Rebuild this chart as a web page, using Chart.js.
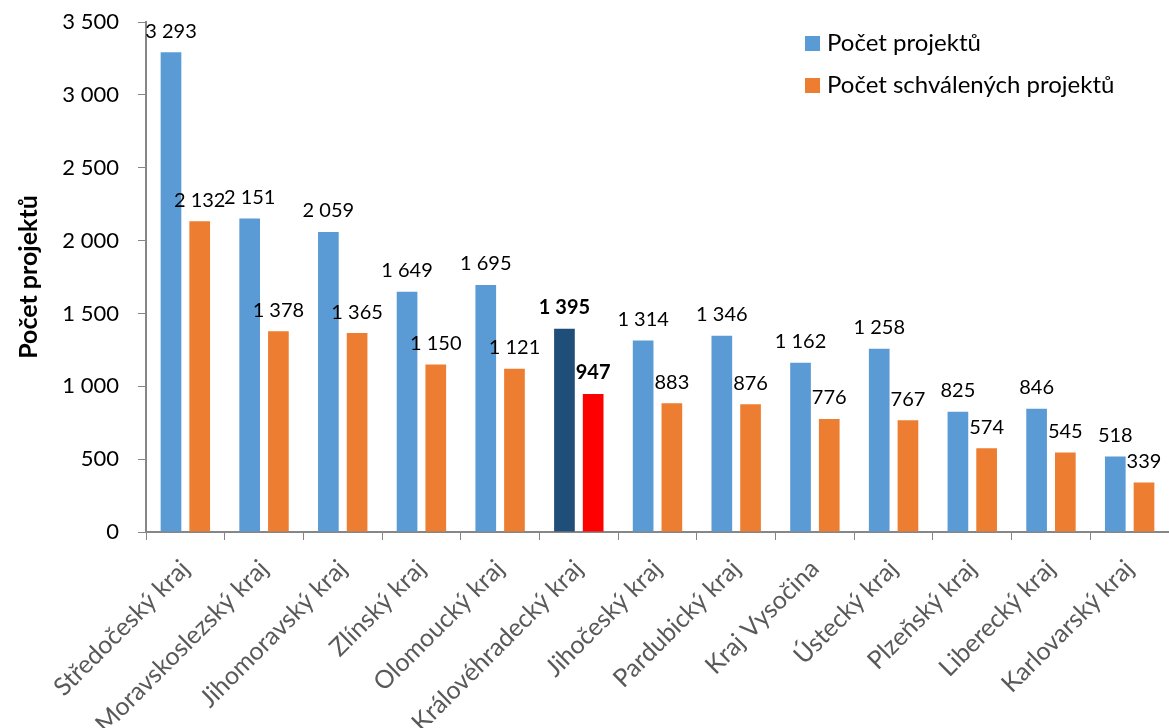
<!DOCTYPE html>
<html lang="cs">
<head>
    <meta charset="UTF-8">
    <title>Počet projektů podle krajů</title>
    <script src="https://cdn.jsdelivr.net/npm/chart.js"></script>
    <style>
        body { margin: 0; background: #fff; }
        #wrap { width: 1169px; height: 728px; }
    </style>
</head>
<body>
    <div id="wrap"><canvas id="chart"></canvas></div>

    <script>
        const kraje = [
            "Středočeský kraj", "Moravskoslezský kraj", "Jihomoravský kraj", "Zlínský kraj",
            "Olomoucký kraj", "Královéhradecký kraj", "Jihočeský kraj", "Pardubický kraj",
            "Kraj Vysočina", "Ústecký kraj", "Plzeňský kraj", "Liberecký kraj", "Karlovarský kraj"
        ];
        const pocetProjektu = [3293, 2151, 2059, 1649, 1695, 1395, 1314, 1346, 1162, 1258, 825, 846, 518];
        const pocetSchvalenych = [2132, 1378, 1365, 1150, 1121, 947, 883, 876, 776, 767, 574, 545, 339];
        const yTicks = [0, 500, 1000, 1500, 2000, 2500, 3000, 3500];
        const zvyrazneny = 5; // Královéhradecký kraj

        const FONT = "Lato, 'Open Sans', sans-serif";
        const fmt = n => String(n).replace(/\B(?=(\d{3})+(?!\d))/g, " ");

        const modra = kraje.map((k, i) => i === zvyrazneny ? "#1F4E79" : "#5B9BD5");
        const oranzova = kraje.map((k, i) => i === zvyrazneny ? "#FF0000" : "#ED7D31");

        // popisky hodnot nad sloupci
        const valueLabels = {
            id: "valueLabels",
            afterDatasetsDraw(chart) {
                const ctx = chart.ctx;
                ctx.save();
                ctx.textAlign = "center";
                ctx.textBaseline = "bottom";
                ctx.fillStyle = "#000";
                chart.data.datasets.forEach((ds, di) => {
                    chart.getDatasetMeta(di).data.forEach((bar, i) => {
                        ctx.font = (i === zvyrazneny ? "bold " : "") + "20px " + FONT;
                        ctx.fillText(fmt(ds.data[i]), bar.x, bar.y - 11);
                    });
                });
                ctx.restore();
            }
        };

        // legenda vpravo nahoře
        const legendBox = {
            id: "legendBox",
            afterDraw(chart) {
                const ctx = chart.ctx;
                ctx.save();
                ctx.font = "24px " + FONT;
                ctx.textBaseline = "middle";
                ctx.textAlign = "left";
                chart.data.datasets.forEach((ds, di) => {
                    const y = 43 + di * 42;
                    ctx.fillStyle = di === 0 ? "#5B9BD5" : "#ED7D31";
                    ctx.fillRect(805, y - 7, 15, 15);
                    ctx.fillStyle = "#000";
                    ctx.fillText(ds.label, 827, y);
                });
                ctx.restore();
            }
        };

        new Chart(document.getElementById("chart"), {
            type: "bar",
            data: {
                labels: kraje,
                datasets: [
                    { label: "Počet projektů", data: pocetProjektu, backgroundColor: modra },
                    { label: "Počet schválených projektů", data: pocetSchvalenych, backgroundColor: oranzova }
                ]
            },
            options: {
                responsive: true,
                maintainAspectRatio: false,
                animation: false,
                datasets: { bar: { categoryPercentage: 0.73, barPercentage: 0.72 } },
                layout: { padding: { top: 22, right: 0, left: 0, bottom: 0 } },
                plugins: {
                    legend: { display: false },
                    tooltip: { enabled: false }
                },
                scales: {
                    x: {
                        grid: { display: true, drawOnChartArea: false, color: "#868686", tickLength: 8, offset: true },
                        border: { color: "#868686", width: 2 },
                        ticks: {
                            minRotation: 45, maxRotation: 45, autoSkip: false,
                            color: "#595959", font: { family: FONT, size: 25 }, padding: 14
                        },
                        afterFit(scale) {
                            scale.height = 196;
                            scale.paddingLeft = 0; scale.paddingRight = 0;
                            scale.paddingTop = 0; scale.paddingBottom = 0;
                        }
                    },
                    y: {
                        min: 0, max: 3500,
                        afterBuildTicks(scale) { scale.ticks = yTicks.map(v => ({ value: v })); },
                        grid: { display: true, drawOnChartArea: false, color: "#868686", tickLength: 8 },
                        border: { color: "#868686", width: 2 },
                        ticks: {
                            color: "#000", font: { family: FONT, size: 22 }, padding: 19,
                            callback: v => fmt(v)
                        },
                        title: {
                            display: true, text: "Počet projektů", color: "#000",
                            font: { family: FONT, size: 25, weight: "bold" }, padding: { top: 14, bottom: 0 }
                        },
                        afterFit(scale) {
                            scale.width = 146;
                            scale.paddingTop = 0; scale.paddingBottom = 0;
                        }
                    }
                }
            },
            plugins: [valueLabels, legendBox]
        });
    </script>
</body>
</html>
